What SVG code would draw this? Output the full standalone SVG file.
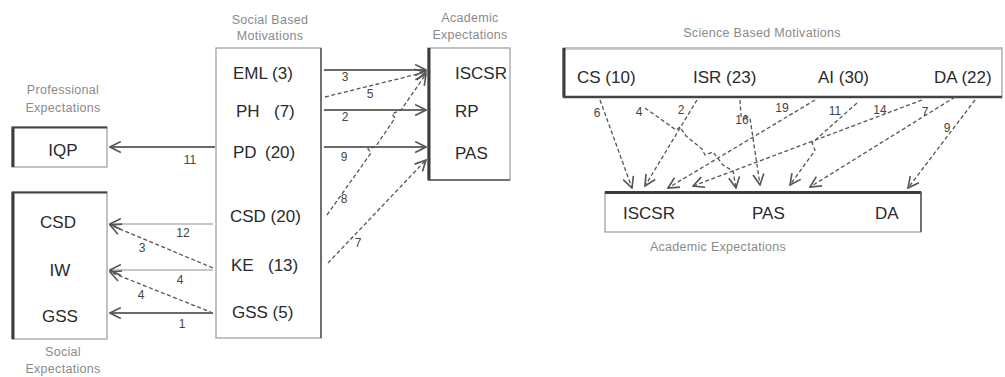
<svg xmlns="http://www.w3.org/2000/svg" width="1005" height="377" viewBox="0 0 1005 377">
<defs>
<style>
.node{font-family:"Liberation Sans","DejaVu Sans",sans-serif;font-size:17px;fill:#2a2a2a}
.title{font-family:"Liberation Sans","DejaVu Sans",sans-serif;font-size:12.5px;fill:#8a8a8a;text-anchor:middle;letter-spacing:0.3px}
.lbl{font-family:"Liberation Sans","DejaVu Sans",sans-serif;font-size:12px;fill:#444;text-anchor:middle}
.box{fill:#fff;stroke:#999;stroke-width:1.2}
.edge{stroke:#3c3c3c;stroke-width:3}
.solid{fill:none;stroke:#6a6a6a;stroke-width:2.2;marker-end:url(#ah)}
.light{fill:none;stroke:#b5b5b5;stroke-width:1.6;marker-end:url(#ah)}
.dash{fill:none;stroke:#555;stroke-width:1.3;stroke-dasharray:4 2.5;marker-end:url(#ah)}
</style>
<marker id="ah" viewBox="0 0 12 12" refX="11" refY="6" markerWidth="13" markerHeight="13" markerUnits="userSpaceOnUse" orient="auto">
<path d="M1,1 L11,6 L1,11" fill="none" stroke="#555" stroke-width="1.5"/>
</marker>
</defs>
<rect width="1005" height="377" fill="#fff"/>

<g id="professional-expectations">
<text class="title" x="63" y="94">Professional</text>
<text class="title" x="63" y="112">Expectations</text>
<rect class="box" x="12" y="127" width="95" height="40"/>
<line class="edge" x1="13" y1="127" x2="13" y2="167"/>
<line x1="12" y1="127.5" x2="107" y2="127.5" stroke="#444" stroke-width="1.8"/>
<text class="node" x="63" y="156" text-anchor="middle">IQP</text>
</g>

<g id="social-expectations">
<rect class="box" x="12" y="192" width="95" height="147"/>
<line class="edge" x1="13" y1="192" x2="13" y2="339"/>
<line x1="12" y1="192.5" x2="107" y2="192.5" stroke="#444" stroke-width="1.8"/>
<text class="node" x="58" y="228" text-anchor="middle">CSD</text>
<text class="node" x="60" y="276" text-anchor="middle">IW</text>
<text class="node" x="60" y="322" text-anchor="middle">GSS</text>
<text class="title" x="63" y="356">Social</text>
<text class="title" x="63" y="373">Expectations</text>
</g>

<g id="social-based-motivations">
<text class="title" x="270" y="24">Social Based</text>
<text class="title" x="270" y="40">Motivations</text>
<rect class="box" x="216" y="48" width="105" height="290"/>
<line x1="321" y1="48" x2="321" y2="338" stroke="#555" stroke-width="1.5"/>
<text class="node" x="233" y="79">EML (3)</text>
<text class="node" y="117"><tspan x="236">PH</tspan><tspan x="274">(7)</tspan></text>
<text class="node" y="158"><tspan x="233">PD</tspan><tspan x="265">(20)</tspan></text>
<text class="node" x="230" y="222">CSD (20)</text>
<text class="node" y="271"><tspan x="231">KE</tspan><tspan x="268">(13)</tspan></text>
<text class="node" x="232" y="318">GSS (5)</text>
</g>

<g id="academic-expectations-left">
<text class="title" x="470" y="22">Academic</text>
<text class="title" x="470" y="39">Expectations</text>
<rect class="box" x="428" y="48" width="82" height="132"/>
<line class="edge" x1="429" y1="48" x2="429" y2="180"/>
<line x1="428" y1="180" x2="510" y2="180" stroke="#555" stroke-width="1.5"/>
<text class="node" x="455" y="79">ISCSR</text>
<text class="node" x="455" y="117">RP</text>
<text class="node" x="455" y="159">PAS</text>
</g>

<g id="science-based-motivations">
<text class="title" x="762" y="37">Science Based Motivations</text>
<rect class="box" x="563" y="48" width="439" height="49"/>
<line x1="563" y1="49.5" x2="1002" y2="49.5" stroke="#ccc" stroke-width="1"/>
<line class="edge" x1="564" y1="48" x2="564" y2="97"/>
<line x1="563" y1="97" x2="1002" y2="97" stroke="#444" stroke-width="2.5"/>
<text class="node" x="577" y="83">CS (10)</text>
<text class="node" x="693" y="83">ISR (23)</text>
<text class="node" x="818" y="83">AI (30)</text>
<text class="node" x="934" y="83">DA (22)</text>
</g>

<g id="academic-expectations-right">
<rect class="box" x="605" y="192" width="316" height="40"/>
<line x1="605" y1="192.5" x2="921" y2="192.5" stroke="#3c3c3c" stroke-width="3"/>
<line x1="921" y1="192" x2="921" y2="232" stroke="#555" stroke-width="1.5"/>
<text class="node" x="623" y="219">ISCSR</text>
<text class="node" x="752" y="219">PAS</text>
<text class="node" x="875" y="219">DA</text>
<text class="title" x="718" y="251">Academic Expectations</text>
</g>

<g id="connectors">
<path class="solid" d="M215,147 L110,147"/>
<text class="lbl" x="190" y="164">11</text>
<path class="light" d="M213,224 L110,224"/>
<text class="lbl" x="183" y="237">12</text>
<path class="dash" d="M213,268 L110,225"/>
<text class="lbl" x="142" y="252">3</text>
<path class="light" d="M213,270 L110,270"/>
<text class="lbl" x="180" y="284">4</text>
<path class="dash" d="M213,313 L110,272"/>
<text class="lbl" x="141" y="299">4</text>
<path class="solid" d="M213,313 L110,313"/>
<text class="lbl" x="182" y="328">1</text>

<path class="solid" d="M324,70 L426,70"/>
<text class="lbl" x="345" y="81">3</text>
<path class="dash" d="M325,97 L426,72"/>
<text class="lbl" x="370" y="98">5</text>
<path class="solid" d="M324,110 L426,110"/>
<text class="lbl" x="345" y="121">2</text>
<path class="solid" d="M324,147 L426,147"/>
<text class="lbl" x="344" y="161">9</text>
<path class="dash" d="M327,215 L371,153 L368,149 L376,146 L395,118 L392,114 L401,110 L426,74"/>
<text class="lbl" x="344" y="203">8</text>
<path class="dash" d="M328,263 L426,160"/>
<text class="lbl" x="358" y="247">7</text>

<path class="dash" d="M600,100 L632,188"/>
<text class="lbl" x="597" y="117">6</text>
<path class="dash" d="M645,108 L676,130 L680,127 L686,136 L702,149 L705,155 L713,152 L723,165 L733,171 L736,188"/>
<text class="lbl" x="639" y="116">4</text>
<path class="dash" d="M697,100 L645,186"/>
<text class="lbl" x="681" y="114">2</text>
<path class="dash" d="M740,100 L741,116 L750,118 L760,185"/>
<text class="lbl" x="742" y="124">16</text>
<path class="dash" d="M815,100 L668,188"/>
<text class="lbl" x="782" y="112">19</text>
<path class="dash" d="M857,103 L812,143 L815,150 L811,156 L790,185"/>
<text class="lbl" x="835" y="115">11</text>
<path class="dash" d="M922,100 L693,186"/>
<text class="lbl" x="880" y="114">14</text>
<path class="dash" d="M955,97 L810,187"/>
<text class="lbl" x="925" y="116">7</text>
<path class="dash" d="M975,100 L908,188"/>
<text class="lbl" x="947" y="132">9</text>
</g>
</svg>
